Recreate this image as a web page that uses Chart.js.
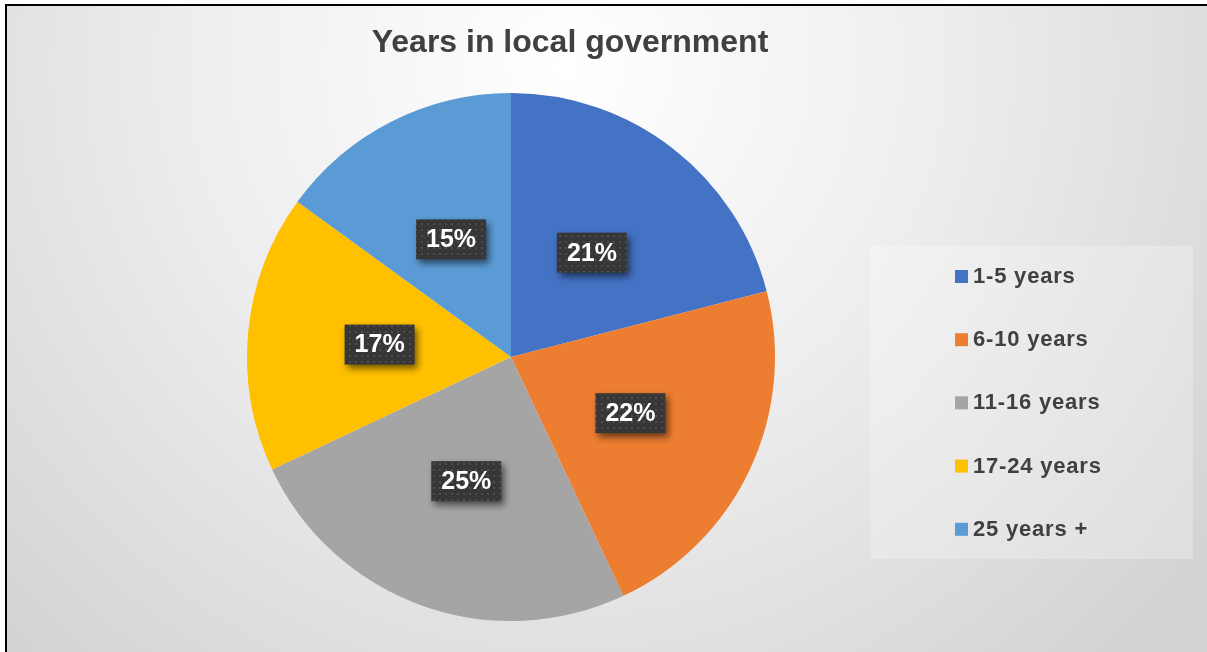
<!DOCTYPE html>
<html>
<head>
<meta charset="utf-8">
<script src="https://cdn.jsdelivr.net/npm/chart.js@4/dist/chart.umd.min.js"></script>
<style>
  html, body { margin: 0; padding: 0; background: #fff; }
  #frame {
    position: absolute; left: 5px; top: 4px; width: 1202px; height: 648px;
    border-top: 2px solid #000; border-left: 2px solid #000;
    background: radial-gradient(circle 820px at 560px 60px, #ffffff 0%, #eeeeee 45%, #d2d2d2 100%);
  }
  #chart { position: absolute; left: 0; top: 0; }
</style>
</head>
<body>
<div id="frame"></div>
<canvas id="chart" width="1207" height="652"></canvas>
<script>
const title = 'Years in local government';
const categories = ['1-5 years', '6-10 years', '11-16 years', '17-24 years', '25 years +'];
const shares = [21, 22, 25, 17, 15];
const colors = ['#4472C4', '#ED7D31', '#A5A5A5', '#FFC000', '#5B9BD5'];

// dotted dark texture used behind the percentage labels
function dotPattern(ctx) {
  const c = document.createElement('canvas');
  c.width = 6; c.height = 6;
  const p = c.getContext('2d');
  p.fillStyle = '#363636';
  p.fillRect(0, 0, 6, 6);
  p.fillStyle = '#4e4e4e';
  p.fillRect(1, 1, 2, 2);
  p.fillStyle = '#444';
  p.fillRect(4, 4, 1, 1);
  return ctx.createPattern(c, 'repeat');
}

const decorations = {
  id: 'decorations',
  afterDraw(chart) {
    const ctx = chart.ctx;
    const meta = chart.getDatasetMeta(0);

    // title
    ctx.save();
    ctx.fillStyle = '#404040';
    ctx.font = 'bold 32px "Liberation Sans", Arial, sans-serif';
    ctx.textAlign = 'center';
    ctx.textBaseline = 'middle';
    ctx.fillText(title, 570, 43);
    ctx.restore();

    // value labels in dark boxes
    const pattern = dotPattern(ctx);
    meta.data.forEach((arc, i) => {
      const pos = arc.tooltipPosition();
      const w = 70, h = 40;
      ctx.save();
      ctx.shadowColor = 'rgba(0,0,0,0.55)';
      ctx.shadowBlur = 7;
      ctx.shadowOffsetX = 3;
      ctx.shadowOffsetY = 4;
      ctx.fillStyle = pattern;
      ctx.fillRect(pos.x - w / 2, pos.y - h / 2, w, h);
      ctx.restore();
      ctx.save();
      ctx.fillStyle = '#ffffff';
      ctx.font = 'bold 25px "Liberation Sans", Arial, sans-serif';
      ctx.textAlign = 'center';
      ctx.textBaseline = 'middle';
      ctx.fillText(shares[i] + '%', pos.x, pos.y + 1);
      ctx.restore();
    });

    // legend panel
    ctx.save();
    ctx.fillStyle = 'rgba(255,255,255,0.25)';
    ctx.fillRect(870, 246, 323, 313);
    ctx.font = 'bold 22px "Liberation Sans", Arial, sans-serif';
    ctx.letterSpacing = '0.8px';
    ctx.textBaseline = 'middle';
    categories.forEach((label, i) => {
      const y = 276 + i * 63.2;
      ctx.fillStyle = colors[i];
      ctx.fillRect(955, y - 6, 13, 13);
      ctx.fillStyle = '#404040';
      ctx.fillText(label, 973, y + 1);
    });
    ctx.restore();
  }
};

new Chart(document.getElementById('chart'), {
  type: 'pie',
  data: {
    labels: categories,
    datasets: [{
      data: shares,
      backgroundColor: colors,
      borderWidth: 0
    }]
  },
  options: {
    responsive: false,
    animation: false,
    layout: { padding: { left: 247, right: 432, top: 93, bottom: 31 } },
    plugins: {
      legend: { display: false },
      tooltip: { enabled: false }
    }
  },
  plugins: [decorations]
});
</script>
</body>
</html>
